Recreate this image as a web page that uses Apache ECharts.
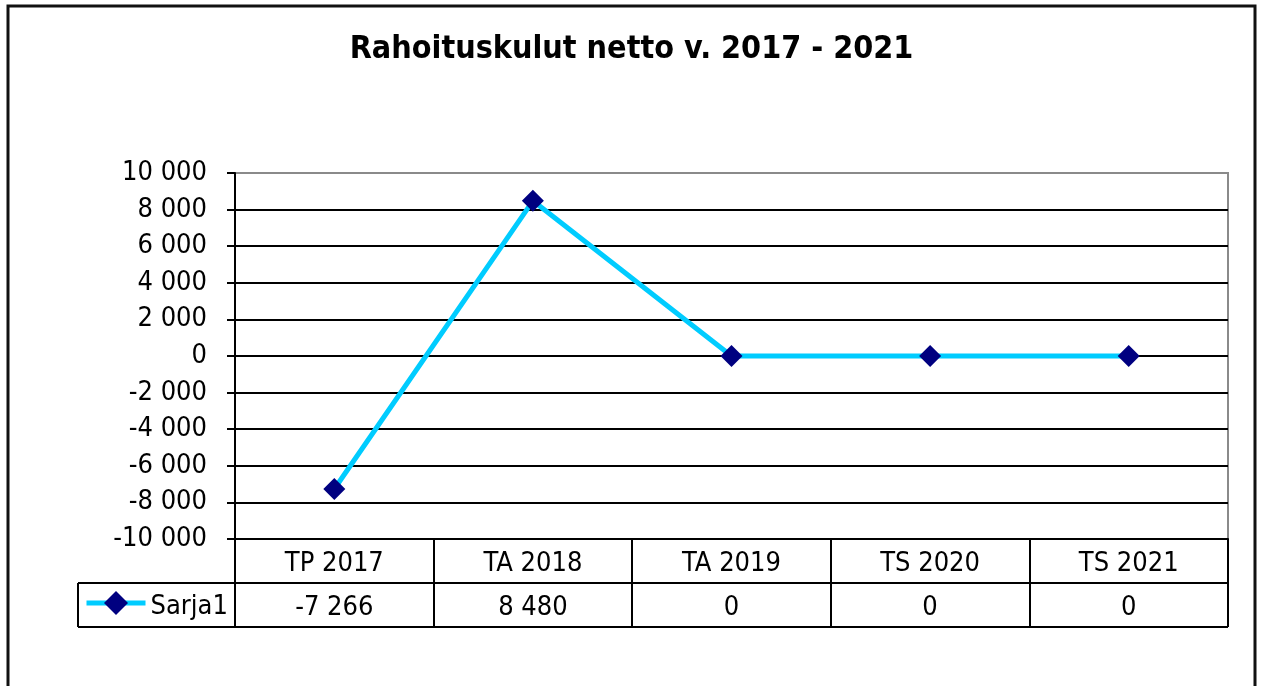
<!DOCTYPE html>
<html>
<head>
<meta charset="utf-8">
<script src="https://cdn.jsdelivr.net/npm/echarts@6/dist/echarts.min.js"></script>
<style>
  html, body { margin: 0; padding: 0; background: #fff; }
  #chart { width: 1263px; height: 686px; }
</style>
</head>
<body>
<div id="chart"></div>
<script>
// Net financial costs by planning period
const categories = ['TP 2017', 'TA 2018', 'TA 2019', 'TS 2020', 'TS 2021'];
const seriesName = 'Sarja1';
const values = [-7266, 8480, 0, 0, 0];
const yTicks = { min: -10000, max: 10000, interval: 2000 };

const FONT = '"DejaVu Sans Condensed", "DejaVu Sans", sans-serif';
const LABEL_SIZE = 27;

// "10 000" style thousands grouping
function fmt(n) {
  const s = String(Math.abs(n)).replace(/\B(?=(\d{3})+(?!\d))/g, ' ');
  return (n < 0 ? '-' : '') + s;
}

const GRID = { left: 235, right: 35, top: 173, bottom: 147 };
const X1 = 1263 - GRID.right;
const Y0 = 686 - GRID.bottom;           // bottom of plot / top of data table
const ROW = 44;                          // data table row height
const LEG_X = 78;                        // left edge of the legend cell
const LEG_ICON_H = 30;

// split lines are black except the topmost one, which is the plot frame
const nLines = (yTicks.max - yTicks.min) / yTicks.interval + 1;
const splitColors = [];
for (let i = 0; i < nLines; i++) splitColors.push(i === nLines - 1 ? '#8a8a8a' : '#000');

const chart = echarts.init(document.getElementById('chart'), null, { renderer: 'canvas' });

chart.setOption({
  animation: false,
  backgroundColor: '#fff',
  title: {
    text: 'Rahoituskulut netto v. 2017 - 2021',
    left: 'center',
    top: 29,
    textStyle: { fontFamily: FONT, fontSize: 32, fontWeight: 'bold', color: '#000' }
  },
  grid: {
    left: GRID.left, right: GRID.right, top: GRID.top, bottom: GRID.bottom,
    show: true, borderColor: '#8a8a8a', borderWidth: 2, backgroundColor: 'transparent'
  },
  legend: {
    left: LEG_X + 6,
    top: Y0 + ROW * 1.5 - LEG_ICON_H / 2 + 1,
    padding: 0,
    itemWidth: 59,
    itemHeight: LEG_ICON_H,
    itemGap: 4,
    lineStyle: { width: 5 },
    formatter: function (name) { return '{t|' + name + '}'; },
    textStyle: {
      fontFamily: FONT, fontSize: LABEL_SIZE, color: '#000',
      rich: { t: { fontFamily: FONT, fontSize: LABEL_SIZE, color: '#000', padding: [8, 0, 0, 0] } }
    },
    data: [seriesName]
  },
  xAxis: {
    type: 'category',
    data: categories,
    boundaryGap: true,
    axisLine: { show: true, onZero: false, lineStyle: { color: '#000', width: 2 } },
    axisTick: { show: true, length: ROW * 2, interval: 0, lineStyle: { color: '#000', width: 2 } },
    axisLabel: {
      interval: 0,
      margin: 3,
      fontFamily: FONT,
      fontSize: LABEL_SIZE,
      color: '#000',
      lineHeight: ROW,
      formatter: function (v, i) { return v + '\n' + fmt(values[i]); }
    },
    splitLine: { show: false }
  },
  yAxis: {
    type: 'value',
    min: yTicks.min,
    max: yTicks.max,
    interval: yTicks.interval,
    axisLine: { show: true, lineStyle: { color: '#000', width: 2 } },
    axisTick: { show: true, length: 8, lineStyle: { color: '#000', width: 2 } },
    axisLabel: {
      margin: 28,
      fontFamily: FONT,
      fontSize: LABEL_SIZE,
      color: '#000',
      formatter: fmt
    },
    splitLine: { show: true, lineStyle: { color: splitColors, width: 2 } }
  },
  graphic: [
    // outer chart frame
    { type: 'rect', shape: { x: 8, y: 6, width: 1247, height: 700 },
      style: { fill: 'none', stroke: '#111', lineWidth: 3 }, silent: true },
    // data table rules
    { type: 'line', shape: { x1: LEG_X, y1: Y0 + ROW, x2: X1, y2: Y0 + ROW },
      style: { stroke: '#000', lineWidth: 2 }, silent: true },
    { type: 'line', shape: { x1: LEG_X, y1: Y0 + ROW * 2, x2: X1, y2: Y0 + ROW * 2 },
      style: { stroke: '#000', lineWidth: 2 }, silent: true },
    { type: 'line', shape: { x1: LEG_X, y1: Y0 + ROW, x2: LEG_X, y2: Y0 + ROW * 2 },
      style: { stroke: '#000', lineWidth: 2 }, silent: true }
  ],
  series: [{
    name: seriesName,
    type: 'line',
    data: values,
    symbol: 'diamond',
    symbolSize: 22,
    lineStyle: { color: '#00ccff', width: 5 },
    itemStyle: { color: '#000080', borderWidth: 0 },
    z: 5
  }]
});
</script>
</body>
</html>
